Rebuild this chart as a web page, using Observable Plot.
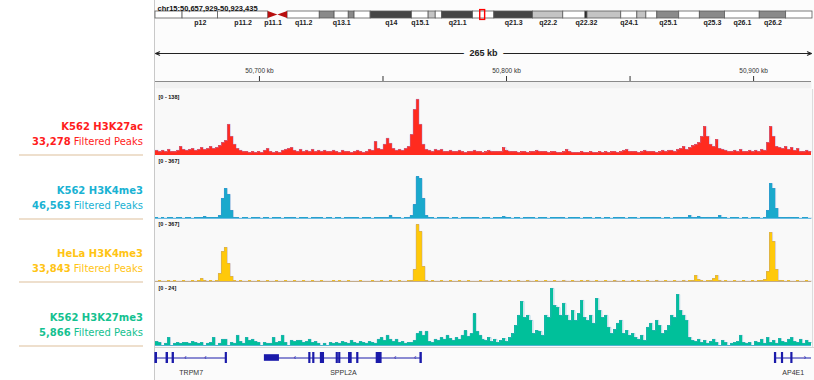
<!DOCTYPE html>
<html><head><meta charset="utf-8">
<script src="https://cdn.jsdelivr.net/npm/d3@7"></script>
<script src="https://cdn.jsdelivr.net/npm/@observablehq/plot@0.6"></script>
<style>
html,body{margin:0;padding:0;background:#fff;}
#root{position:relative;width:814px;height:380px;overflow:hidden;font-family:"DejaVu Sans",sans-serif;}
.blk{position:absolute;left:0;}
.lab{position:absolute;right:671px;text-align:right;white-space:nowrap;font-size:10px;line-height:15px;}
.sep{position:absolute;left:19px;width:124px;height:1.5px;background:#eedfcd;}
</style></head>
<body><div id="root"></div>
<script>
// ---------- data ----------
const chrom = "chr15";
const regionStart = 50657929;
const regionEnd = 50923435;
const chromLength = 101991189;

const bandNames  = ["p13","p12","p11.2","p11.1","q11.1","q11.2","q12","q13.1","q13.2","q13.3","q14","q15.1","q15.2","q15.3","q21.1","q21.2","q21.3","q22.2","q22.31","q22.32","q23","q24.1","q24.2","q24.3","q25.1","q25.2","q25.3","q26.1","q26.2","q26.3"];
const bandStarts = [0,4.2,9.7,17.5,19.0,20.5,25.5,27.8,30.0,30.9,33.4,39.8,42.4,43.5,44.5,49.3,52.6,58.6,63.3,66.75,67.06,72.3,74.8,76.2,77.9,81.3,84.5,88.4,93.8,97.9];
const bandEnds   = [4.2,9.7,17.5,19.0,20.5,25.5,27.8,30.0,30.9,33.4,39.8,42.4,43.5,44.5,49.3,52.6,58.6,63.3,66.75,67.06,72.3,74.8,76.2,77.9,81.3,84.5,88.4,93.8,97.9,101.99];
const bandStains = ["gvar","stalk","gvar","acen","acen","gneg","gpos50","gneg","gpos50","gneg","gpos75","gneg","gpos25","gneg","gpos75","gneg","gpos75","gpos25","gneg","gpos100","gpos25","gneg","gpos25","gneg","gpos50","gneg","gpos50","gneg","gpos50","gneg"];
const bandLabels = ["p12","p11.2","p11.1","q11.2","q13.1","q14","q15.1","q21.1","q21.3","q22.2","q22.32","q24.1","q25.1","q25.3","q26.1","q26.2"];

const trackNames = ["K562 H3K27ac","K562 H3K4me3","HeLa H3K4me3","K562 H3K27me3"];
const peakCounts = [33278, 46563, 33843, 5866];
const trackMax = [138, 367, 367, 24];

const k562H3K27ac = [
 9,6,9,6,11,6,6,9,17,11, 9,11,13,9,11,15,11,13,17,13, 15,19,26,30,65,39,22,13,9,6,
 6,4,6,4,6,4,9,13,6,4, 6,4,9,11,13,15,9,6,11,6, 9,6,11,6,9,6,9,6,6,9,
 6,4,9,6,6,4,6,9,6,4, 6,11,9,28,13,11,22,35,24,13, 9,11,9,13,17,43,97,119,65,22,
 11,9,6,11,9,11,6,6,9,6, 6,9,6,4,6,6,9,6,6,4, 6,9,6,6,6,6,15,9,6,6,
 6,4,6,6,4,6,6,9,6,6, 6,4,6,6,4,4,6,11,6,4, 4,4,6,4,4,6,4,4,6,4,
 6,4,6,6,4,6,9,11,6,6, 6,4,6,9,6,6,6,4,6,9, 6,9,9,6,11,13,17,11,15,19,
 22,26,39,60,39,22,17,32,13,11, 9,6,6,9,6,11,6,6,9,6, 9,6,11,9,26,60,39,17,15,13,
 17,11,15,9,13,6,6,9,6];
const k562H3K4me3 = [
 3,2,3,2,3,3,2,3,3,2, 3,3,2,3,3,4,11,3,3,3, 3,17,115,172,138,46,6,3,2,3,
 3,2,3,3,6,2,3,3,2,3, 3,3,2,3,3,6,3,2,3,3, 3,2,3,6,3,3,2,3,3,2,
 3,3,2,3,6,3,3,3,2,3, 3,3,2,3,3,3,6,3,17,6, 3,3,2,3,6,17,80,240,229,115,
 17,3,3,2,3,6,3,3,2,3, 3,2,3,3,6,3,3,3,2,3, 3,3,2,3,3,3,11,3,3,2,
 3,3,2,3,6,3,3,2,3,3, 3,2,3,3,3,6,3,2,3,3, 3,3,2,3,3,3,2,3,3,2,
 3,3,2,3,6,3,3,2,3,3, 3,2,3,3,3,3,6,3,3,2, 3,3,2,3,6,3,3,6,17,6,
 6,11,3,3,6,3,6,3,17,3, 3,2,3,3,3,2,3,3,2,3, 3,3,2,3,46,200,172,57,6,3,
 3,6,3,3,3,2,3,3,2];
const helaH3K4me3 = [
 2,3,2,2,3,2,3,2,2,3, 2,2,3,2,3,17,6,2,3,2, 3,46,172,195,103,29,3,2,3,2,
 2,3,2,2,3,2,2,3,2,2, 3,2,2,3,2,2,3,2,2,3, 2,2,3,2,2,3,2,2,2,3,
 2,3,2,2,3,2,2,2,3,2, 2,2,3,2,2,3,2,2,3,2, 2,3,2,2,3,6,69,327,287,86,
 6,2,3,2,2,3,2,2,3,2, 2,3,2,2,3,2,2,2,3,2, 2,2,3,2,2,3,2,2,3,2,
 2,3,2,2,6,2,2,3,2,2, 3,2,2,3,2,2,6,2,2,3, 2,2,3,2,6,2,2,3,2,2,
 3,2,2,6,2,2,3,2,2,3, 2,3,2,2,3,2,2,6,2,2, 3,2,2,3,2,2,6,2,3,6,
 34,11,3,2,3,6,17,34,6,2, 3,2,2,3,2,2,3,2,2,3, 2,3,6,11,57,281,229,69,6,3,
 2,3,2,2,3,2,2,3,2];
const k562H3K27me3 = [
 1.5,1.1,0,0.8,3,0,0.8,1.1,0.8,1.1, 1.1,0.8,1.5,1.1,0.8,1.1,0,0.8,1.1,3,
 0,0.8,2.3,2.3,0,1.1,0.8,3.8,1.5,0.8, 3,1.9,2.3,1.5,1.1,0,1.1,0.8,0.8,3,
 1.1,1.5,3.8,1.1,0,1.9,1.5,1.9,1.9,1.1, 1.5,2.3,1.1,1.5,0.8,0,0.8,0,1.1,0.8,
 1.1,0.8,1.5,1.1,0.8,1.9,1.1,0.8,1.5,1.1, 0.8,1.5,1.1,0.8,2.3,3,1.9,3.8,2.3,1.5,
 2.3,1.1,1.5,0.8,1.1,1.1,1.9,4.5,5.3,3.8, 5.3,1.5,1.1,2.3,1.9,3,2.3,3.8,2.6,1.9,
 3,2.3,3.8,5.6,3.4,4.5,12,5.3,3.8,2.3, 1.9,3,1.5,2.3,1.1,1.9,2.6,1.5,3,4.5,
 7.5,11.3,16.5,10.5,11.3,9.4,4.5,5.6,5.3,3.8, 11.3,10.5,21.4,15,14.3,11.3,15.8,11.3,9.4,13.1,
 9.4,12,16.9,10.5,9.4,11.3,8.3,17.6,13.1,10.5, 11.3,6.8,4.5,6,8.3,9.4,4.5,5.6,3.8,4.5,
 3,2.3,3.8,1.9,6.8,8.3,5.6,9.4,7.5,4.5, 5.6,7.5,11.3,10.5,19.1,13.1,11.3,9.4,3,1.9,
 1.5,2.3,1.1,1.9,0.8,1.5,2.3,1.1,0,1.9, 1.1,0,0.8,1.1,1.5,3.8,1.1,0.8,1.1,0,
 1.5,1.1,2.3,0.8,3,1.1,1.9,0.8,2.6,1.5, 1.1,2.3,3,1.5,1.1,2.3,0.8,1.9,1.1];

const geneNames   = ["TRPM7","SPPL2A","AP4E1"];
const geneStarts  = [50552473, 50702246, 50908672];
const geneEnds    = [50686797, 50765679, 51001000];
const geneStrands = ["-","-","+"];
const exonGenes  = ["TRPM7","TRPM7","TRPM7","TRPM7","SPPL2A","SPPL2A","SPPL2A","SPPL2A","SPPL2A","SPPL2A","SPPL2A","SPPL2A","SPPL2A","SPPL2A","AP4E1","AP4E1","AP4E1"];
const exonStarts = [50657929,50662450,50664900,50686400, 50702246,50720200,50721800,50724900,50731300,50732300,50736300,50739600,50747500,50765200, 50908672,50911500,50915300];
const exonEnds   = [50658500,50662950,50665350,50686797, 50707850,50720600,50722200,50726100,50731700,50732700,50737300,50740000,50749400,50765679, 50909100,50911900,50915700];
const exonKinds  = ["cds","cds","cds","cds", "utr","cds","cds","cds","cds","cds","cds","cds","cds","cds", "cds","cds","cds"];

// ---------- styles ----------
const trackStyles = [
  {fill:"#ff2b1f", edge:"#a58fd6", base:"#ff2b1f", label:"#ff1c1c"},
  {fill:"#1aa9cc", edge:"#4a8fd0", base:"#6cbde3", label:"#19b2d3"},
  {fill:"#ffc90a", edge:"#b49a9a", base:"#c2ab8c", label:"#ffc414"},
  {fill:"#00c09a", edge:"#4aa3c8", base:"#4fb3cf", label:"#14c190"}
];
const stainFill = {gneg:"#ffffff", gvar:"#ffffff", stalk:"#ffffff", gpos25:"#c4c4c4", gpos50:"#8a8a8a", gpos75:"#454545", gpos100:"#111111"};
const geneColor = "#1a1aaa";
const W = 814, ML = 155, MR = 3;
const trackTops = [90, 154, 217, 281], trackH = 64;

const root = document.getElementById("root");
function place(node, top, left = 0) {
  const d = document.createElement("div");
  d.className = "blk"; d.style.top = top + "px"; d.style.left = left + "px";
  d.appendChild(node); root.appendChild(d); return d;
}
function box(css) { const d = document.createElement("div"); d.style.cssText = "position:absolute;" + css; root.appendChild(d); return d; }

// panel backgrounds / borders
box("left:154px;top:0;width:660px;height:89px;background:#fcfcfc;");
box("left:154px;top:89px;width:660px;height:258px;background:#f9f9f9;");
box("left:154px;top:347px;width:660px;height:33px;background:#fbfbfb;border-top:1px solid #d6d6d6;");
box("left:154px;top:0;width:1px;height:380px;background:#c9c9c9;");
box("left:812px;top:89px;width:1px;height:258px;background:#dcdcdc;");

// ---------- ideogram ----------
const bands = bandNames.map((n, i) => ({name: n, start: bandStarts[i] * 1e6, end: bandEnds[i] * 1e6, stain: bandStains[i]}));
const acenPts = [];
bands.filter(b => b.stain === "acen").forEach(b => {
  const pArm = b.name.startsWith("p");
  acenPts.push({name: b.name, x: b.start, lo: pArm ? 0 : 0.5, hi: pArm ? 1 : 0.5});
  acenPts.push({name: b.name, x: b.end, lo: pArm ? 0.5 : 0, hi: pArm ? 0.5 : 1});
});
const locus = `${chrom}:${d3.format(",")(regionStart)}-${d3.format(",")(regionEnd)}`;
const ideo = Plot.plot({
  width: W, height: 30, marginLeft: 155, marginRight: 2, marginTop: 11, marginBottom: 12,
  style: {fontFamily: "Liberation Sans, Arial, sans-serif", background: "transparent", overflow: "visible"},
  x: {domain: [0, chromLength], axis: null},
  y: {domain: [0, 1], axis: null},
  marks: [
    Plot.rect(bands.filter(b => b.stain !== "acen"), {x1: "start", x2: "end", y1: 0, y2: 1, fill: d => stainFill[d.stain], stroke: "#5a5a5a", strokeWidth: 0.8}),
    Plot.area(acenPts, {x1: "x", y1: "lo", y2: "hi", z: "name", fill: "#b80f0f"}),
    Plot.text(bands.filter(b => bandLabels.includes(b.name)), {x: d => (d.start + d.end) / 2, text: "name", frameAnchor: "bottom", dy: 6, fontSize: 7, fontWeight: "bold", fill: "#222"}),
    Plot.text([locus], {frameAnchor: "top-left", dx: 2, dy: -6, textAnchor: "start", fontSize: 7.5, fontWeight: "bold", fill: "#111"}),
    Plot.rect([{s: regionStart, e: regionEnd}], {x1: "s", x2: "e", y1: -0.2, y2: 1.2, insetLeft: -1.6, insetRight: -1.6, fill: "none", stroke: "#ff0000", strokeWidth: 1.4})
  ]
});
place(ideo, 0);

// ---------- ruler ----------
const mid = (regionStart + regionEnd) / 2;
const spanLabel = `${Math.floor((regionEnd - regionStart) / 1000)} kb`;
const rulerArrow = Plot.plot({
  width: W, height: 18, marginLeft: ML, marginRight: MR, marginTop: 0, marginBottom: 0,
  style: {fontFamily: "Liberation Sans, Arial, sans-serif", background: "transparent", overflow: "visible"},
  x: {domain: [regionStart, regionEnd], axis: null},
  y: {domain: [-1, 1], axis: null},
  marks: [
    Plot.arrow([{a: mid, b: regionStart}, {a: mid, b: regionEnd}], {x1: "a", x2: "b", y1: 0, y2: 0, stroke: "#222", strokeWidth: 1.1, headLength: 6, headAngle: 45}),
    Plot.text([spanLabel], {x: mid, y: 0, fontSize: 9, fontWeight: "bold", fill: "#222", stroke: "#fcfcfc", strokeWidth: 12})
  ]
});
place(rulerArrow, 44);

const tickVals = d3.range(Math.ceil(regionStart / 50000) * 50000, regionEnd, 50000);
const rulerAxis = Plot.plot({
  width: W, height: 28, marginLeft: ML, marginRight: MR, marginTop: 21, marginBottom: 0,
  style: {fontFamily: "Liberation Sans, Arial, sans-serif", background: "transparent", overflow: "visible"},
  x: {domain: [regionStart, regionEnd]},
  y: {domain: [0, 1], axis: null},
  marks: [
    Plot.frame({fill: "#f1f1f1", stroke: null}),
    Plot.axisX({anchor: "top", ticks: tickVals, tickFormat: d => d % 100000 === 0 ? `${d3.format(",")(d / 1000)} kb` : "", tickSize: 6, tickPadding: 3, fontSize: 6.5, color: "#333", label: null}),
    Plot.ruleY([1], {stroke: "#8a8a8a"})
  ]
});
place(rulerAxis, 60);

// ---------- signal tracks ----------
const trackValues = [k562H3K27ac, k562H3K4me3, helaH3K4me3, k562H3K27me3];
trackValues.forEach((vals, k) => {
  const st = trackStyles[k];
  const binSize = (regionEnd - regionStart) / vals.length;
  const bins = vals.map((v, i) => ({x1: regionStart + i * binSize, x2: regionStart + (i + 1) * binSize, v}));
  const edge = bins.map(d => ({x: d.x1, v: d.v})).concat([{x: regionEnd, v: vals[vals.length - 1]}]);
  const p = Plot.plot({
    width: W, height: trackH, marginLeft: ML, marginRight: MR, marginTop: 0, marginBottom: 0,
    style: {fontFamily: "Liberation Sans, Arial, sans-serif", background: "transparent", overflow: "visible"},
    x: {domain: [regionStart, regionEnd], axis: null},
    y: {domain: [0, trackMax[k]], axis: null},
    marks: [
      Plot.rect(bins, {x1: "x1", x2: "x2", y1: 0, y2: "v", fill: st.fill, shapeRendering: "crispEdges"}),
      Plot.line(edge, {x: "x", y: "v", curve: "step-after", stroke: st.edge, strokeWidth: 0.8, strokeOpacity: 0.55}),
      Plot.ruleY([0], {stroke: st.base, strokeWidth: 1.2}),
      Plot.text([`[0 - ${trackMax[k]}]`], {frameAnchor: "top-left", dx: 3, dy: 5, textAnchor: "start", fontSize: 5.5, fontWeight: "bold", fill: "#111"})
    ]
  });
  place(p, trackTops[k]);

  // left-side labels
  const sep = trackTops[k] + trackH;
  const l1 = document.createElement("div");
  l1.className = "lab"; l1.style.top = (sep - 35) + "px"; l1.style.color = st.label; l1.style.fontWeight = "bold";
  l1.textContent = trackNames[k];
  root.appendChild(l1);
  const l2 = document.createElement("div");
  l2.className = "lab"; l2.style.top = (sep - 20) + "px"; l2.style.color = st.label;
  l2.innerHTML = `<b>${d3.format(",")(peakCounts[k])}</b> Filtered Peaks`;
  root.appendChild(l2);
  const s = document.createElement("div");
  s.className = "sep"; s.style.top = sep + "px";
  root.appendChild(s);
});

// ---------- genes ----------
const genes = geneNames.map((n, i) => ({name: n, start: geneStarts[i], end: geneEnds[i], strand: geneStrands[i],
  vs: Math.max(geneStarts[i], regionStart), ve: Math.min(geneEnds[i], regionEnd)}));
const exons = exonGenes.map((g, i) => ({gene: g, start: exonStarts[i], end: exonEnds[i], kind: exonKinds[i]}));
const chevrons = [];
genes.forEach(g => {
  const step = 8100;
  for (let x = g.vs + step / 2; x < g.ve - 1500; x += step) {
    if (exons.some(e => e.gene === g.name && x > e.start - 2200 && x < e.end + 2200)) continue;
    chevrons.push({x, t: g.strand === "-" ? "‹" : "›"});
  }
});
const geneTrack = Plot.plot({
  width: W, height: 33, marginLeft: ML, marginRight: MR, marginTop: 5, marginBottom: 17,
  style: {fontFamily: "Liberation Sans, Arial, sans-serif", background: "transparent", overflow: "visible"},
  x: {domain: [regionStart, regionEnd], axis: null},
  y: {domain: [-1, 1], axis: null},
  marks: [
    Plot.ruleY(genes, {y: 0, x1: "vs", x2: "ve", stroke: geneColor, strokeWidth: 1}),
    Plot.rect(exons, {x1: "start", x2: "end", y1: d => d.kind === "utr" ? -0.6 : -1, y2: d => d.kind === "utr" ? 0.6 : 1, fill: geneColor, insetLeft: -0.6, insetRight: -0.6}),
    Plot.text(chevrons, {x: "x", y: 0, text: "t", fontSize: 7, fill: geneColor, dy: -0.5}),
    Plot.text(genes, {x: d => (d.vs + d.ve) / 2, text: "name", frameAnchor: "bottom", dy: 11, fontSize: 7, fill: "#333"})
  ]
});
place(geneTrack, 347);
</script>
</body></html>
